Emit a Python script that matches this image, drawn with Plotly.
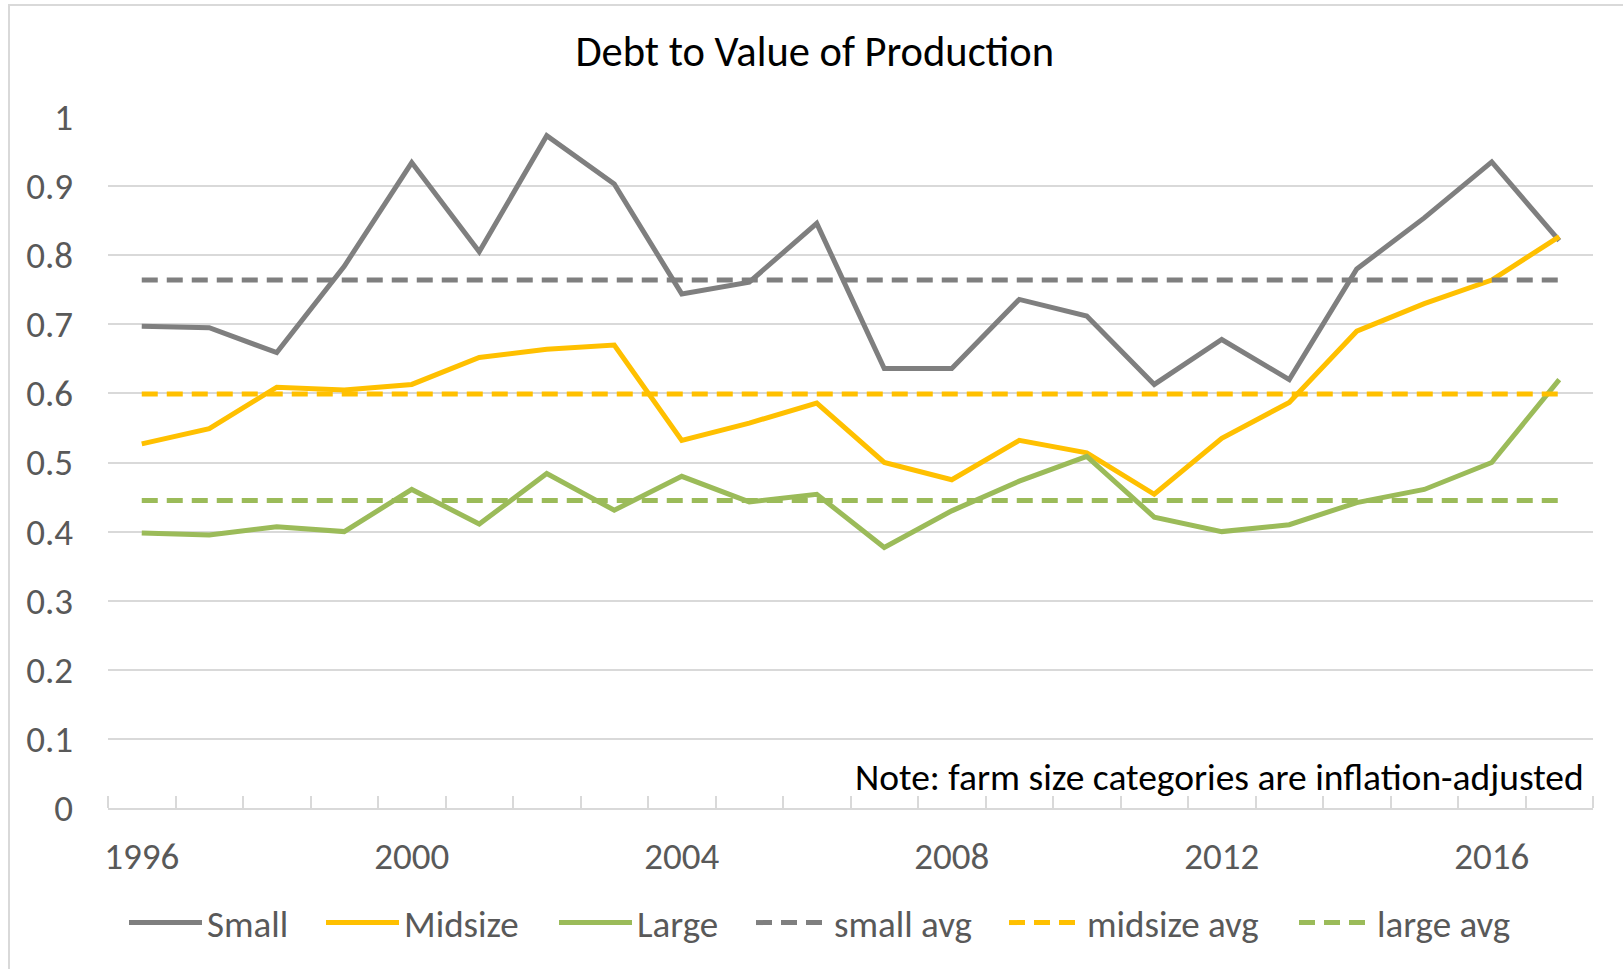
import plotly.graph_objects as go

years = list(range(1996, 2018))
small = [0.697, 0.695, 0.659, 0.784, 0.934, 0.805, 0.973, 0.903, 0.744, 0.761, 0.846,
         0.636, 0.636, 0.736, 0.712, 0.613, 0.678, 0.620, 0.780, 0.854, 0.935, 0.821]
midsize = [0.527, 0.549, 0.609, 0.605, 0.613, 0.652, 0.664, 0.670, 0.532, 0.557, 0.586,
           0.500, 0.475, 0.532, 0.514, 0.454, 0.535, 0.587, 0.690, 0.730, 0.764, 0.827]
large = [0.398, 0.395, 0.407, 0.400, 0.461, 0.411, 0.484, 0.431, 0.480, 0.443, 0.454,
         0.377, 0.430, 0.473, 0.509, 0.421, 0.400, 0.410, 0.442, 0.461, 0.500, 0.620]
small_avg = 0.764
midsize_avg = 0.599
large_avg = 0.445
series_names = ["Small", "Midsize", "Large", "small avg", "midsize avg", "large avg"]
xtick_labels = ["1996", "2000", "2004", "2008", "2012", "2016"]
ytick_vals = [0, 0.1, 0.2, 0.3, 0.4, 0.5, 0.6, 0.7, 0.8, 0.9, 1]
ytick_text = ["0", "0.1", "0.2", "0.3", "0.4", "0.5", "0.6", "0.7", "0.8", "0.9", "1"]

GRAY = "#7F7F7F"
GOLD = "#FFC000"
GREEN = "#9BBB59"
FONT = "Carlito, Calibri, Lato, sans-serif"
TXT = "#595959"

W, H = 1623, 969
L, R, T, B = 108, 30, 117, 161
PW = W - L - R
PH = H - T - B

def px_x(p):
    return (p - L) / PW

def px_y(p):
    return (H - B - p) / PH

LW = 5
DASH = "16px,9px"
series = [
    (series_names[0], small, GRAY, "solid"),
    (series_names[1], midsize, GOLD, "solid"),
    (series_names[2], large, GREEN, "solid"),
    (series_names[3], [small_avg] * len(years), GRAY, DASH),
    (series_names[4], [midsize_avg] * len(years), GOLD, DASH),
    (series_names[5], [large_avg] * len(years), GREEN, DASH),
]
# legend entry start positions (pixels) for each item
legend_px = [129, 326, 559, 756, 1009, 1299]

fig = go.Figure()
legend_layout = {}
for i, (name, vals, col, dash) in enumerate(series):
    lid = "legend" if i == 0 else f"legend{i + 1}"
    fig.add_trace(go.Scatter(x=years, y=vals, mode="lines", name=name, legend=lid,
                             line=dict(color=col, width=LW, dash=dash)))
    legend_layout[lid] = dict(orientation="h", x=px_x(legend_px[i] - 5), xanchor="left",
                              y=px_y(923), yanchor="middle",
                              font=dict(family=FONT, size=37, color=TXT),
                              bgcolor="rgba(0,0,0,0)", itemwidth=73)

fig.update_layout(
    width=W, height=H,
    margin=dict(l=L, r=R, t=T, b=B, pad=0),
    paper_bgcolor="white", plot_bgcolor="white",
    font=dict(family=FONT, size=37, color=TXT),
    title=dict(text="Debt to Value of Production", font=dict(family=FONT, size=42.5, color="#000000"),
               x=0.502, xref="container", xanchor="center",
               y=1 - 51 / H, yref="container", yanchor="middle"),
    showlegend=True,
    xaxis=dict(range=[1995.5, 2017.5], tickmode="array",
               tickvals=[int(t) for t in xtick_labels], ticktext=xtick_labels,
               ticks="", showgrid=False, zeroline=False,
               showline=True, linecolor="#D9D9D9", linewidth=2,
               ticklabelstandoff=15,
               tickfont=dict(family=FONT, size=37, color=TXT),
               minor=dict(tickmode="linear", tick0=1995.5, dtick=1, ticks="inside",
                          ticklen=12, tickwidth=2, tickcolor="#D9D9D9", showgrid=False)),
    yaxis=dict(range=[0, 1], tickmode="array", tickvals=ytick_vals, ticktext=ytick_text,
               showgrid=True, gridcolor="#D9D9D9", gridwidth=2, zeroline=False,
               showline=False, ticks="", ticklabelstandoff=34,
               tickfont=dict(family=FONT, size=37, color=TXT)),
    annotations=[dict(text="Note: farm size categories are inflation-adjusted",
                      xref="paper", yref="paper", x=px_x(1586), y=px_y(777),
                      xanchor="right", yanchor="middle", showarrow=False,
                      font=dict(family=FONT, size=37.5, color="#000000"))],
    shapes=[dict(type="rect", xref="paper", yref="paper",
                 x0=px_x(9), x1=px_x(1700), y0=px_y(1100), y1=px_y(5),
                 line=dict(color="#D9D9D9", width=2), fillcolor="rgba(0,0,0,0)", layer="below")],
    **legend_layout,
)

fig.write_html("out.html")
